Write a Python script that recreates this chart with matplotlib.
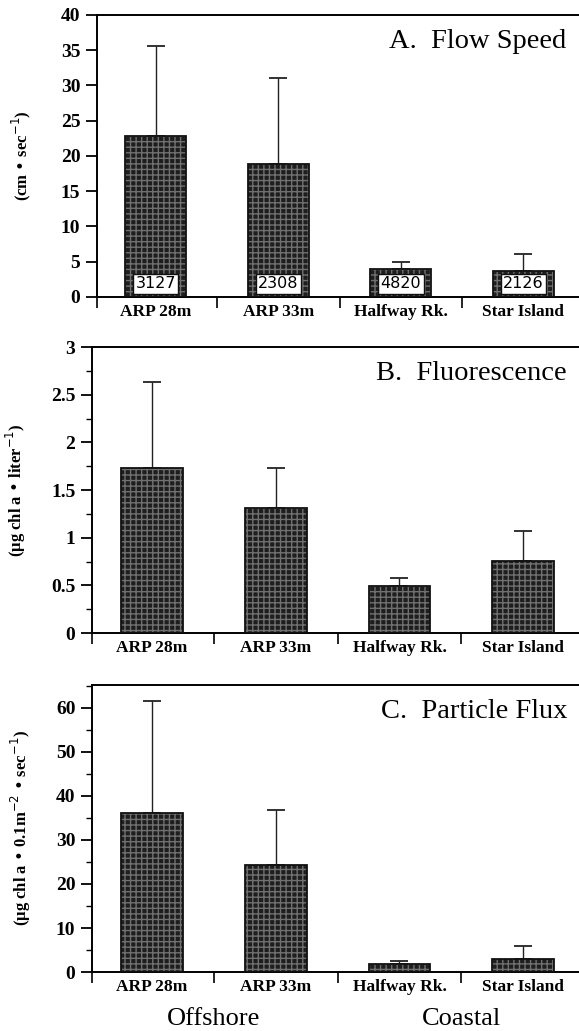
import matplotlib
matplotlib.use('Agg')
import matplotlib.pyplot as plt
from matplotlib.ticker import MultipleLocator, FixedLocator, NullFormatter

# data
sites = ['ARP 28m', 'ARP 33m', 'Halfway Rk.', 'Star Island']
flow_mean = [22.8, 18.9, 3.9, 3.7]
flow_sd = [12.8, 12.1, 1.0, 2.4]
flow_n = ['3127', '2308', '4820', '2126']
fluor_mean = [1.73, 1.31, 0.49, 0.76]
fluor_sd = [0.90, 0.42, 0.09, 0.31]
flux_mean = [36.2, 24.3, 1.8, 3.0]
flux_sd = [25.3, 12.4, 0.6, 2.8]
groups = ['Offshore', 'Coastal']

serif = 'Liberation Serif'
plt.rcParams['font.family'] = serif

fig = plt.figure(figsize=(5.79, 10.31), dpi=100)

panels = [
    dict(rect=[0.1675, 0.712, 0.84, 0.2735], mean=flow_mean, sd=flow_sd,
         ylim=(0, 40), major=5, minor=None, title='A.  Flow Speed',
         ylabel='(cm \u2022 sec$^{-1}$)', lx=-0.132),
    dict(rect=[0.159, 0.386, 0.85, 0.2774], mean=fluor_mean, sd=fluor_sd,
         ylim=(0, 3), major=0.5, minor=0.25, title='B.  Fluorescence',
         ylabel='(\u00b5g chl a \u2022 liter$^{-1}$)', lx=-0.13),
    dict(rect=[0.159, 0.0572, 0.85, 0.2784], mean=flux_mean, sd=flux_sd,
         ylim=(0, 65.2), major=10, minor=5, title='C.  Particle Flux',
         ylabel='(\u00b5g chl a \u2022 0.1m$^{-2}$ \u2022 sec$^{-1}$)', lx=-0.12),
]

x = list(range(len(sites)))
axes = []
for i, p in enumerate(panels):
    ax = fig.add_axes(p['rect'])
    axes.append(ax)
    # hatched dark fill
    ax.bar(x, p['mean'], width=0.5, color='#1e1e1e', hatch='+++',
           edgecolor='#707070', linewidth=0, zorder=2)
    ax.bar(x, p['mean'], width=0.5, color='none', edgecolor='#111111',
           linewidth=1.3, zorder=3)
    ax.errorbar(x, p['mean'], yerr=[[0] * len(x), p['sd']], fmt='none',
                ecolor='#222222', elinewidth=1.0, capsize=6.5, capthick=1.3,
                zorder=1)
    ax.set_xlim(-0.48, 3.49)
    ax.set_ylim(*p['ylim'])
    ax.spines['right'].set_visible(False)
    for s in ['top', 'left', 'bottom']:
        ax.spines[s].set_linewidth(1.4)
    ax.yaxis.set_major_locator(MultipleLocator(p['major']))
    if p['minor']:
        ax.yaxis.set_minor_locator(MultipleLocator(p['minor']))
    ax.tick_params(axis='y', which='major', direction='out', length=8,
                   width=1.3, labelsize=14, pad=4)
    ax.tick_params(axis='y', which='minor', direction='out', length=4,
                   width=1.0)
    ax.yaxis.set_major_formatter(
        matplotlib.ticker.FuncFormatter(lambda v, pos: ('%g' % v)))
    for lab in ax.get_yticklabels():
        lab.set_fontweight('bold')
    # x ticks: labels at bar centers, separators between
    ax.set_xticks(x)
    ax.set_xticklabels(sites, fontsize=12.5, fontweight='bold')
    ax.tick_params(axis='x', which='major', length=0, pad=5)
    ax.xaxis.set_minor_locator(FixedLocator([-0.48, 0.5, 1.5, 2.5]))
    ax.xaxis.set_minor_formatter(NullFormatter())
    ax.tick_params(axis='x', which='minor', direction='out', length=8,
                   width=1.2)
    ax.text(0.965, 0.95, p['title'], transform=ax.transAxes, ha='right',
            va='top', fontsize=20.5, family=serif)
    ax.set_ylabel(p['ylabel'], fontsize=12, fontweight='bold',
                  family=['Liberation Serif', 'DejaVu Serif'])
    ax.yaxis.set_label_coords(p['lx'], 0.5)

# sample counts in flow panel
for xi, n in zip(x, flow_n):
    axes[0].text(xi, 1.85, n, ha='center', va='center', fontsize=11.5,
                 family='Liberation Sans Narrow', zorder=5,
                 bbox=dict(boxstyle='square,pad=0.15', fc='white',
                           ec='#111111', lw=1.0))

# group labels below bottom panel
axc = axes[2]
for gx, g in zip([0.5, 2.5], groups):
    axc.text(gx, -0.165, g, transform=axc.get_xaxis_transform(),
             ha='center', va='center', fontsize=19, family=serif)

fig.savefig('out.png', dpi=100)
